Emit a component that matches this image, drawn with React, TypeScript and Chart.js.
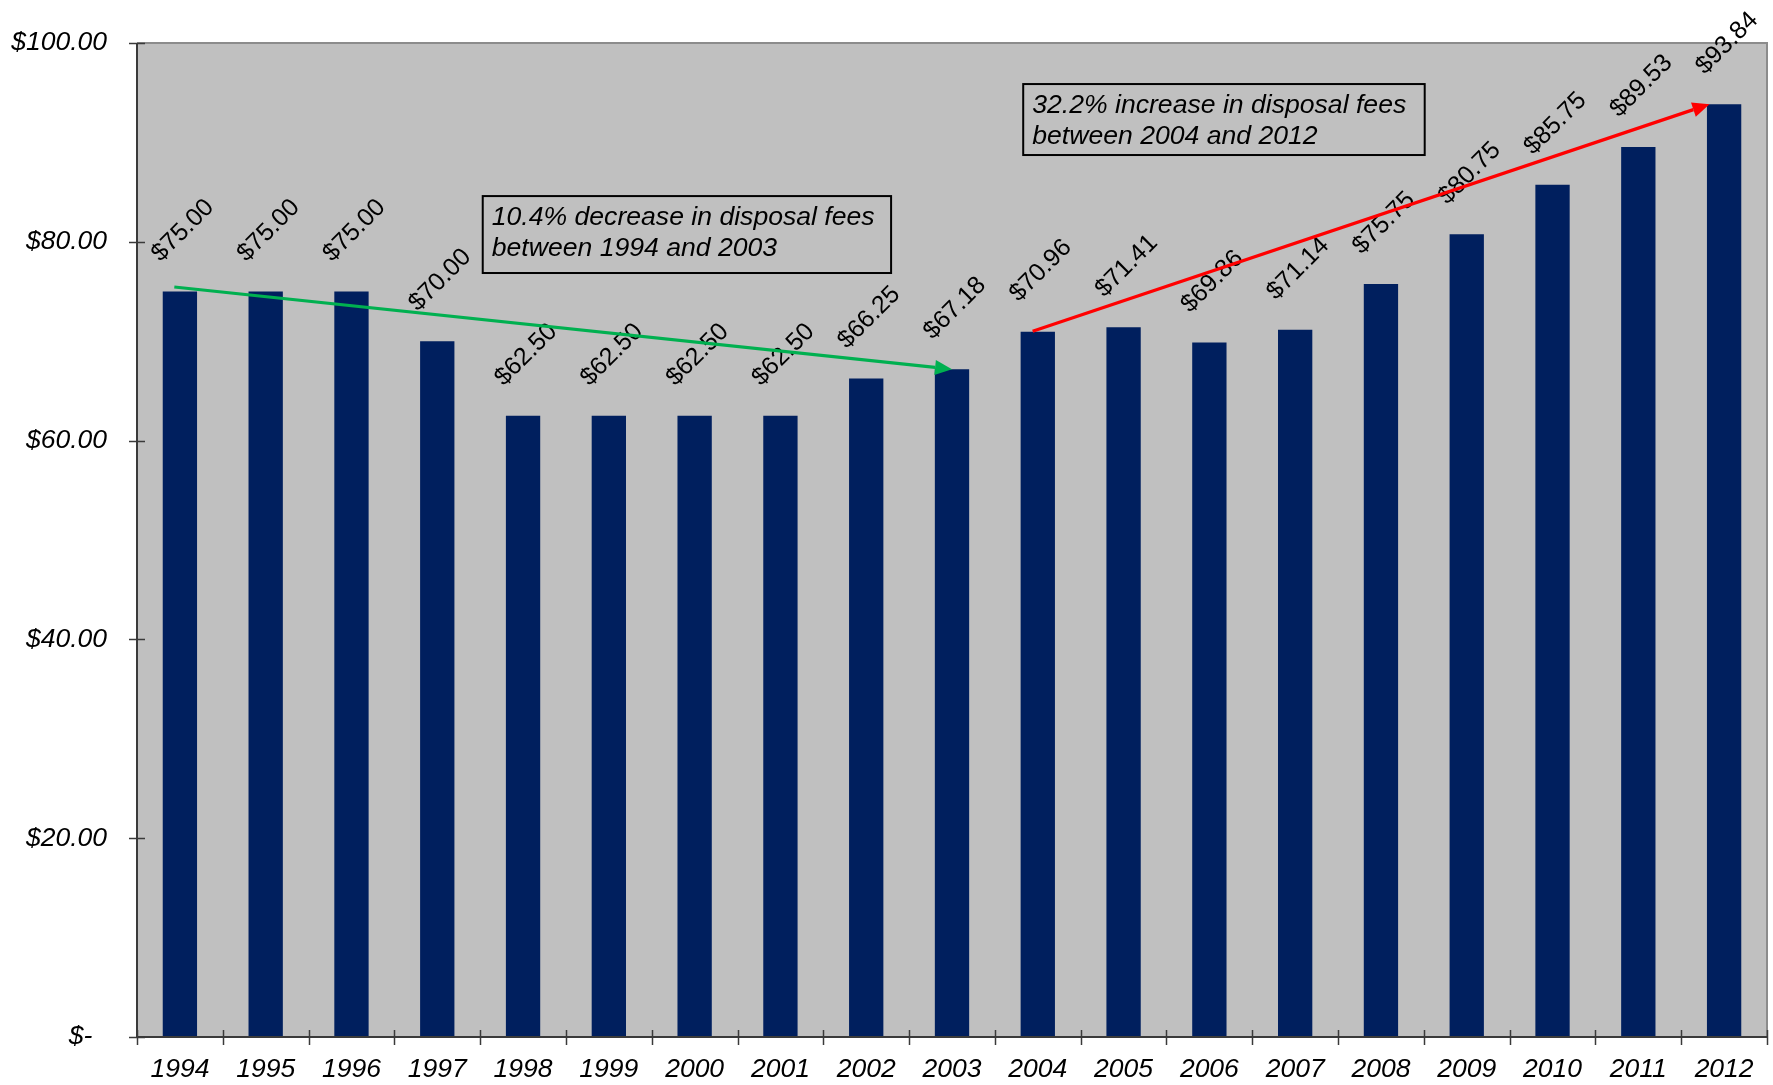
import React, { useEffect, useRef } from "react";
import { Chart, registerables } from "chart.js";

Chart.register(...registerables);

const years = ["1994", "1995", "1996", "1997", "1998", "1999", "2000", "2001", "2002", "2003", "2004", "2005", "2006", "2007", "2008", "2009", "2010", "2011", "2012"];
const fees = [75.0, 75.0, 75.0, 70.0, 62.5, 62.5, 62.5, 62.5, 66.25, 67.18, 70.96, 71.41, 69.86, 71.14, 75.75, 80.75, 85.75, 89.53, 93.84];

const yMin = 0;
const yMax = 100;
const yStep = 20;

// annotation boxes in data units (category index, value)
const noteLines1 = ["10.4% decrease in disposal fees", "between 1994 and 2003"];
const noteBox1 = { x0: 3.53, y0: 84.6, x1: 8.29, y1: 76.86 };
const noteLines2 = ["32.2% increase in disposal fees", "between 2004 and 2012"];
const noteBox2 = { x0: 9.83, y0: 95.87, x1: 14.51, y1: 88.73 };

// trend arrows in data units
const greenArrow = { from: [-0.065, 75.45], to: [9, 67.18], color: "#00B050" };
const redArrow = { from: [9.94, 71.0], to: [17.83, 93.84], color: "#FF0000" };

const FONT = "'Liberation Sans', Arial, sans-serif";

function fmt(v: number): string {
  if (v === 0) return "$-\u00A0\u00A0";
  return "$" + v.toFixed(2);
}

const decorPlugin = {
  id: "decor",
  beforeDraw(chart: any) {
    const { ctx, chartArea } = chart;
    ctx.save();
    ctx.fillStyle = "#FFFFFF";
    ctx.fillRect(0, 0, chart.width, chart.height);
    ctx.fillStyle = "#C0C0C0";
    ctx.fillRect(chartArea.left, chartArea.top, chartArea.right - chartArea.left, chartArea.bottom - chartArea.top);
    ctx.restore();
  },
  afterDatasetsDraw(chart: any) {
    const { ctx, chartArea, scales } = chart;
    const { left, right, top, bottom } = chartArea;
    const xs = scales.x;
    const ys = scales.y;
    ctx.save();
    // top & right border
    ctx.strokeStyle = "#8C8C8C";
    ctx.lineWidth = 2;
    ctx.beginPath();
    ctx.moveTo(left, top);
    ctx.lineTo(right, top);
    ctx.lineTo(right, bottom);
    ctx.stroke();
    // axes
    ctx.strokeStyle = "#3A3A3A";
    ctx.lineWidth = 2;
    ctx.beginPath();
    ctx.moveTo(left, top);
    ctx.lineTo(left, bottom);
    ctx.lineTo(right, bottom);
    ctx.stroke();
    // y ticks crossing
    ctx.lineWidth = 1.5;
    for (let v = yMin; v <= yMax; v += yStep) {
      const y = Math.round(ys.getPixelForValue(v)) + 0.5;
      ctx.beginPath();
      ctx.moveTo(left - 8, y);
      ctx.lineTo(left + 8, y);
      ctx.stroke();
    }
    // x ticks at category boundaries
    for (let i = 0; i <= years.length; i++) {
      const x = Math.round(xs.getPixelForValue(i - 0.5)) + 0.5;
      ctx.beginPath();
      ctx.moveTo(x, bottom - 7);
      ctx.lineTo(x, bottom + 8);
      ctx.stroke();
    }
    ctx.restore();

    // data labels
    const meta = chart.getDatasetMeta(0);
    ctx.save();
    ctx.fillStyle = "#000000";
    ctx.font = "25px " + FONT;
    ctx.textAlign = "center";
    ctx.textBaseline = "middle";
    meta.data.forEach((bar: any, i: number) => {
      ctx.save();
      ctx.translate(bar.x + 3, bar.y - 61);
      ctx.rotate(-Math.PI / 4);
      ctx.fillText("$" + fees[i].toFixed(2), 0, 0);
      ctx.restore();
    });
    ctx.restore();

    // note boxes
    const drawBox = (box: any, lines: string[]) => {
      const x0 = xs.getPixelForValue(box.x0);
      const x1 = xs.getPixelForValue(box.x1);
      const y0 = ys.getPixelForValue(box.y0);
      const y1 = ys.getPixelForValue(box.y1);
      ctx.save();
      ctx.fillStyle = "#C0C0C0";
      ctx.fillRect(x0, y0, x1 - x0, y1 - y0);
      ctx.strokeStyle = "#000000";
      ctx.lineWidth = 2;
      ctx.strokeRect(x0, y0, x1 - x0, y1 - y0);
      ctx.fillStyle = "#000000";
      ctx.font = "italic 26.6px " + FONT;
      ctx.textAlign = "left";
      ctx.textBaseline = "alphabetic";
      lines.forEach((t, k) => {
        ctx.fillText(t, x0 + 9, y0 + 29 + k * 31);
      });
      ctx.restore();
    };
    drawBox(noteBox1, noteLines1);
    drawBox(noteBox2, noteLines2);

    // arrows
    const drawArrow = (a: any) => {
      const sx = xs.getPixelForValue(a.from[0]);
      const sy = ys.getPixelForValue(a.from[1]);
      const ex = xs.getPixelForValue(a.to[0]);
      const ey = ys.getPixelForValue(a.to[1]);
      const ang = Math.atan2(ey - sy, ex - sx);
      const headLen = 17;
      const headHalf = 7.5;
      const bx = ex - headLen * Math.cos(ang);
      const by = ey - headLen * Math.sin(ang);
      ctx.save();
      ctx.strokeStyle = a.color;
      ctx.fillStyle = a.color;
      ctx.lineWidth = 3.2;
      ctx.beginPath();
      ctx.moveTo(sx, sy);
      ctx.lineTo(bx, by);
      ctx.stroke();
      ctx.beginPath();
      ctx.moveTo(ex, ey);
      ctx.lineTo(bx + headHalf * Math.sin(ang), by - headHalf * Math.cos(ang));
      ctx.lineTo(bx - headHalf * Math.sin(ang), by + headHalf * Math.cos(ang));
      ctx.closePath();
      ctx.fill();
      ctx.restore();
    };
    drawArrow(greenArrow);
    drawArrow(redArrow);
  },
};

export default function App() {
  const ref = useRef<HTMLCanvasElement | null>(null);
  useEffect(() => {
    if (!ref.current) return;
    const chart = new Chart(ref.current, {
      type: "bar",
      data: {
        labels: years,
        datasets: [
          {
            data: fees,
            backgroundColor: "#001F5E",
            borderWidth: 0,
            barPercentage: 0.4,
            categoryPercentage: 1.0,
          },
        ],
      },
      options: {
        responsive: false,
        animation: false,
        devicePixelRatio: 1,
        layout: { padding: { top: 43, right: 6, left: 0, bottom: 0 } },
        plugins: {
          legend: { display: false },
          tooltip: { enabled: false },
          title: { display: false },
        },
        scales: {
          x: {
            type: "category",
            offset: true,
            grid: { display: false, drawTicks: false },
            border: { display: false },
            ticks: {
              color: "#000000",
              font: { family: FONT, size: 26.5, style: "italic" },
              padding: 17,
              maxRotation: 0,
              minRotation: 0,
              autoSkip: false,
            },
            afterFit: (s: any) => {
              s.height = 48;
              s.paddingLeft = 0;
              s.paddingRight = 0;
            },
          },
          y: {
            min: yMin,
            max: yMax,
            grid: { display: false, drawTicks: false },
            border: { display: false },
            ticks: {
              stepSize: yStep,
              color: "#000000",
              font: { family: FONT, size: 26.5, style: "italic" },
              padding: 30,
              callback: (v: any) => fmt(Number(v)),
            },
            afterFit: (s: any) => {
              s.width = 137;
              s.paddingTop = 0;
              s.paddingBottom = 0;
            },
          },
        },
      },
      plugins: [decorPlugin],
    });
    return () => chart.destroy();
  }, []);
  return (
    <div style={{ position: "absolute", left: 0, top: 0, width: 1773, height: 1085, background: "#fff" }}>
      <canvas ref={ref} width={1773} height={1085} style={{ display: "block" }} />
    </div>
  );
}
